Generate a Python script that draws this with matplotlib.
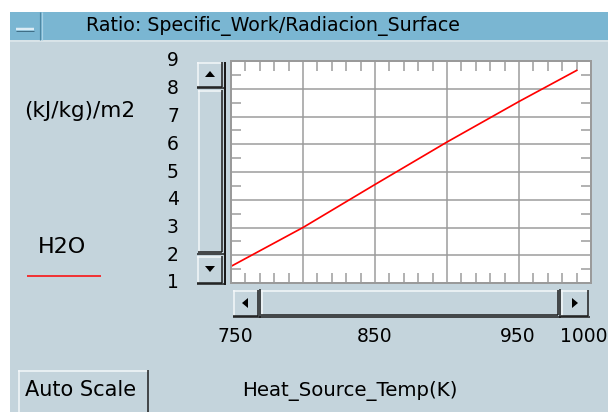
import matplotlib
matplotlib.use('Agg')
import matplotlib.pyplot as plt
from matplotlib.patches import Rectangle, Polygon
import numpy as np

# data
temp_k = [750, 800, 850, 900, 950, 990]
ratio_h2o = [1.6, 3.0, 4.55, 6.08, 7.54, 8.66]

x_tick_vals = [750, 850, 950, 1000]
x_tick_shift = [4, 0, -1, -7]   # px, labels are nudged to fit the window
y_tick_vals = [1, 2, 3, 4, 5, 6, 7, 8, 9]

series_name = 'H2O'
title = 'Ratio: Specific_Work/Radiacion_Surface'
y_units = '(kJ/kg)/m2'
x_label = 'Heat_Source_Temp(K)'
button_text = 'Auto Scale'

W, H = 608, 412
BG = '#c4d4dc'
BAR = '#7ab6d2'
GRID = '#9a9a9a'
DARK = '#1a1a1a'
LIGHT = '#f4f8fa'
PX = 0.72  # one pixel in points

fig = plt.figure(figsize=(W / 100, H / 100), dpi=100)
fig.patch.set_facecolor('white')

# window chrome drawn in pixel coords (y goes down)
gui = fig.add_axes([0, 0, 1, 1])
gui.set_xlim(0, W)
gui.set_ylim(H, 0)
gui.axis('off')


def box(x0, y0, x1, y1, fc=BG):
    gui.add_patch(Rectangle((x0, y0), x1 - x0, y1 - y0, facecolor=fc, edgecolor='none'))


def seg(x0, y0, x1, y1, c, w=1.0):
    gui.plot([x0, x1], [y0, y1], color=c, lw=w * PX, solid_capstyle='butt')


def bevel(x0, y0, x1, y1):
    box(x0, y0, x1, y1)
    seg(x0, y0 + 0.5, x1, y0 + 0.5, LIGHT, 1.5)
    seg(x0 + 0.5, y0, x0 + 0.5, y1, LIGHT, 1.5)
    seg(x0, y1 - 0.5, x1, y1 - 0.5, DARK, 1.5)
    seg(x1 - 0.5, y0, x1 - 0.5, y1, DARK, 1.5)


def arrow(cx, cy, d):
    s = 5
    if d == 'up':
        pts = [(cx - s, cy + 3), (cx + s, cy + 3), (cx, cy - 3)]
    elif d == 'down':
        pts = [(cx - s, cy - 3), (cx + s, cy - 3), (cx, cy + 3)]
    elif d == 'left':
        pts = [(cx + 3, cy - s), (cx + 3, cy + s), (cx - 3, cy)]
    else:
        pts = [(cx - 3, cy - s), (cx - 3, cy + s), (cx + 3, cy)]
    gui.add_patch(Polygon(pts, closed=True, facecolor='black', edgecolor='none'))


# panel + title bar
box(10, 12, W, H)
box(10, 12, W, 40, BAR)
seg(10, 40.5, W, 40.5, '#dfe8ec', 1.5)
seg(40, 12, 40, 40, '#4e87a3', 1.2)
seg(41.5, 12, 41.5, 40, '#a8d2e6', 1.2)
seg(16, 28.5, 34, 28.5, '#dcecf5', 2.5)
seg(16, 30.5, 34, 30.5, '#3f6e86', 1.0)
gui.text(273, 26, title, ha='center', va='center', fontsize=13.7, color='black')

# vertical scrollbar
bevel(197, 62, 222, 87)
arrow(210, 74, 'up')
seg(197, 88, 225, 88, DARK, 1.5)
bevel(198, 90, 222, 252)
seg(197, 253.5, 225, 253.5, DARK, 1.5)
bevel(197, 256, 222, 283)
arrow(210, 269, 'down')
seg(197, 284, 226, 284, DARK, 1.5)
seg(225, 62, 225, 285, DARK, 2)

# horizontal scrollbar
bevel(233, 290, 258, 316)
arrow(245, 303, 'left')
seg(259.5, 289, 259.5, 318, DARK, 1.5)
bevel(261, 290, 558, 315)
seg(559.5, 289, 559.5, 318, DARK, 1.5)
bevel(561, 290, 588, 316)
arrow(575, 303, 'right')
seg(233, 317, 590, 317, DARK, 1.5)

# unit label and legend
gui.text(80, 111, y_units, ha='center', va='center', fontsize=15.5)
gui.text(62, 247, series_name, ha='center', va='center', fontsize=16)
seg(27, 276, 101, 276, 'red', 1.5)

# Auto Scale button and axis title
bevel(18, 370, 148, H + 2)
gui.text(81, 390, button_text, ha='center', va='center', fontsize=15)
gui.text(350, 391, x_label, ha='center', va='center', fontsize=14.2)

# plot area
ax = fig.add_axes([231 / W, (H - 283) / H, (591 - 231) / W, (283 - 61) / H])
ax.set_facecolor('white')
ax.plot(temp_k, ratio_h2o, color='red', lw=1.7 * PX)
ax.set_xlim(750, 1000)
ax.set_ylim(1, 9)
ax.set_xticks(np.arange(750, 1001, 50))
ax.set_xticks(np.arange(750, 1001, 10), minor=True)
ax.set_yticks(y_tick_vals)
ax.set_yticks(np.arange(1.5, 9, 1.0), minor=True)
ax.grid(True, which='major', color=GRID, lw=1.5 * PX)
ax.tick_params(which='major', length=0, labelleft=False, labelbottom=False)
ax.tick_params(which='minor', direction='in', length=7, width=1.5 * PX,
               color=GRID, top=True, right=True)
for sp in ax.spines.values():
    sp.set_color(GRID)
    sp.set_linewidth(2 * PX)

for v in y_tick_vals:
    ax.annotate(str(v), xy=(0, v), xycoords=('axes fraction', 'data'),
                xytext=(-58, 0), textcoords='offset pixels',
                ha='center', va='center', fontsize=13.5)
for v, dx in zip(x_tick_vals, x_tick_shift):
    ax.annotate(str(v), xy=(v, 0), xycoords=('data', 'axes fraction'),
                xytext=(dx, -54), textcoords='offset pixels',
                ha='center', va='center', fontsize=13.5, annotation_clip=False)

fig.savefig('out.png', dpi=100)
